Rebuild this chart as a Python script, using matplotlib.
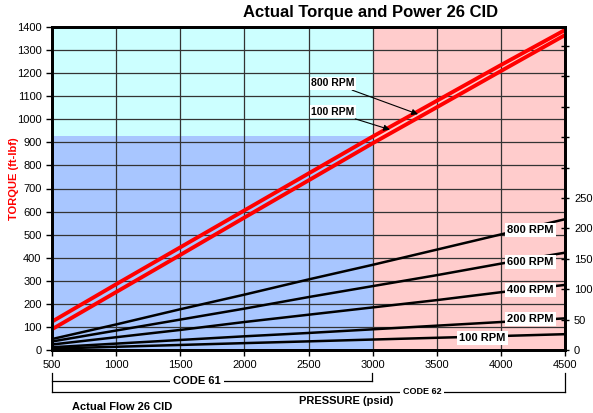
import matplotlib
matplotlib.use("Agg")
import matplotlib.pyplot as plt

plt.rcParams["font.family"] = ["Liberation Sans", "DejaVu Sans"]

# pressure (psid)
pressure = [500, 1000, 1500, 2000, 2500, 3000, 3500, 4000, 4500]

# torque (ft-lbf)
torque_800 = [123, 285, 445, 605, 765, 925, 1080, 1235, 1387]
torque_100 = [90, 251, 412, 574, 735, 896, 1052, 1209, 1365]

# power (HP)
power = {
    "800 RPM": [18, 42, 67, 91, 116, 140, 165, 190, 215],
    "600 RPM": [14, 32, 50, 68, 87, 105, 123, 142, 160],
    "400 RPM": [9, 21, 33, 46, 58, 70, 82, 95, 107],
    "200 RPM": [4.5, 10.5, 16.5, 22.5, 28, 34, 40, 46, 52],
    "100 RPM": [2.3, 5.3, 8.3, 11.3, 14.2, 17.2, 20.1, 23, 26],
}
power_label_pos = {
    "800 RPM": (4230, 197),
    "600 RPM": (4230, 145),
    "400 RPM": (4230, 99),
    "200 RPM": (4230, 51),
    "100 RPM": (3855, 20),
}

code61_end = 3000
code61_torque_limit = 927

fig = plt.figure(figsize=(5.93, 4.13), dpi=100)
ax = fig.add_axes([52 / 593, 1 - 350 / 413, 513 / 593, 323 / 413])

# background zones
ax.fill_between([500, code61_end], 0, code61_torque_limit, color="#a8c6ff", zorder=0, lw=0)
ax.fill_between([500, code61_end], code61_torque_limit, 1400, color="#ccffff", zorder=0, lw=0)
ax.fill_between([code61_end, 4500], 0, 1400, color="#ffcccc", zorder=0, lw=0)

ax.set_xlim(500, 4500)
ax.set_ylim(0, 1400)
ax.set_xticks(range(500, 4501, 500))
ax.set_yticks(range(0, 1401, 100))
ax.grid(True, color="#333333", lw=0.9, zorder=1)
ax.set_axisbelow(False)
ax.tick_params(labelsize=8, length=4, width=1)
for s in ax.spines.values():
    s.set_linewidth(2)

ax.plot(pressure, torque_800, color="#ff0000", lw=2.8, zorder=3)
ax.plot(pressure, torque_100, color="#ff0000", lw=2.8, zorder=3)

box = dict(boxstyle="square,pad=0.15", fc="white", ec="none")
arr = dict(arrowstyle="-|>", color="black", lw=0.8, mutation_scale=9, shrinkA=1, shrinkB=0)
ax.annotate("800 RPM", xy=(3354, 1022), xytext=(2690, 1157), fontsize=7.5,
            fontweight="bold", ha="center", va="center", bbox=box, arrowprops=arr, zorder=5)
ax.annotate("100 RPM", xy=(3135, 955), xytext=(2690, 1032), fontsize=7.5,
            fontweight="bold", ha="center", va="center", bbox=box, arrowprops=arr, zorder=5)

ax.set_ylabel("TORQUE (ft-lbf)", color="#ff0000", fontsize=8, fontweight="bold")
ax.yaxis.set_label_coords(-33 / 513, 0.53)

ax2 = ax.twinx()
ax2.set_ylim(0, 531)
ax2.set_yticks(range(0, 501, 50))
ax2.set_yticklabels([str(v) if v <= 250 else "" for v in range(0, 501, 50)])
ax2.tick_params(labelsize=8, direction="inout", length=6, width=1)
for s in ax2.spines.values():
    s.set_linewidth(2)

for name, vals in power.items():
    ax2.plot(pressure, vals, color="black", lw=1.8, zorder=3)
    x, y = power_label_pos[name]
    ax2.text(x, y, name, fontsize=8, fontweight="bold", ha="center", va="center",
             bbox=dict(boxstyle="square,pad=0.2", fc="white", ec="none"), zorder=5)

fig.text(371 / 593, 1 - 12 / 413, "Actual Torque and Power 26 CID", ha="center", va="center",
         fontsize=12, fontweight="bold")

# code brackets below the axis
def px(x, y):
    return x / 593, 1 - y / 413

lines = [
    [(52, 373), (52, 392)],
    [(52, 381), (372, 381)],
    [(372, 373), (372, 381)],
    [(52, 392), (565, 392)],
    [(565, 373), (565, 392)],
]
for seg in lines:
    xs = [px(*p)[0] for p in seg]
    ys = [px(*p)[1] for p in seg]
    fig.add_artist(plt.Line2D(xs, ys, color="black", lw=0.9))

wbox = dict(boxstyle="square,pad=0.25", fc="white", ec="none")
fig.text(*px(197, 381), "CODE 61", ha="center", va="center", fontsize=8,
         fontweight="bold", bbox=wbox)
fig.text(*px(422, 392), "CODE 62", ha="center", va="center", fontsize=6.5,
         fontweight="bold", bbox=wbox)
fig.text(*px(346, 401), "PRESSURE (psid)", ha="center", va="center", fontsize=8,
         fontweight="bold")
fig.text(*px(72, 412), "Actual Flow 26 CID", ha="left", va="bottom", fontsize=8,
         fontweight="bold")

fig.savefig("out.png", dpi=100)
